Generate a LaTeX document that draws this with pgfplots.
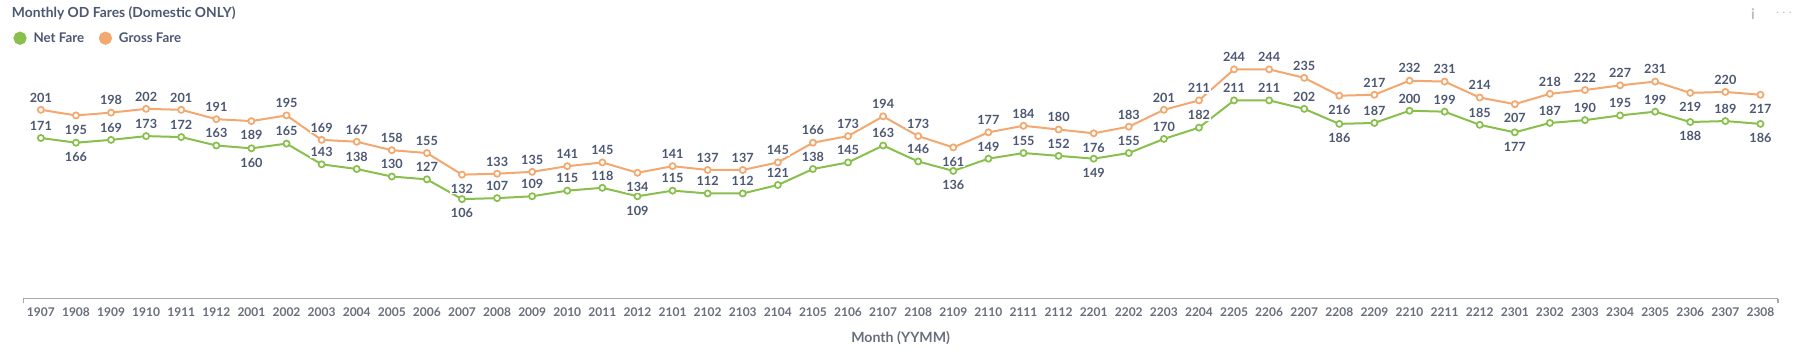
\documentclass[border=0pt]{standalone}
\usepackage{fontspec}
\setmainfont{Lato}
\usepackage{pgfplots}
\pgfplotsset{compat=1.18}
\usepackage{pgfplotstable}
\definecolor{netgreen}{HTML}{88BF4D}
\definecolor{grossorange}{HTML}{F2A86F}
\definecolor{labelcol}{HTML}{4C5773}
\definecolor{tickcol}{HTML}{696E7B}
\definecolor{axiscol}{HTML}{A3A8B4}
\definecolor{iconcol}{HTML}{B8BBC3}
\pgfplotstableread{
idx month net gross off
0 1907 171 201 9.2
1 1908 166 195 -10.7
2 1909 169 198 9.2
3 1910 173 202 9.2
4 1911 172 201 9.2
5 1912 163 191 9.2
6 2001 160 189 -10.7
7 2002 165 195 9.2
8 2003 143 169 9.2
9 2004 138 167 9.2
10 2005 130 158 9.2
11 2006 127 155 9.2
12 2007 106 132 -10.7
13 2008 107 133 9.2
14 2009 109 135 9.2
15 2010 115 141 9.2
16 2011 118 145 9.2
17 2012 109 134 -10.7
18 2101 115 141 9.2
19 2102 112 137 9.2
20 2103 112 137 9.2
21 2104 121 145 9.2
22 2105 138 166 9.2
23 2106 145 173 9.2
24 2107 163 194 9.2
25 2108 146 173 9.2
26 2109 136 161 -10.7
27 2110 149 177 9.2
28 2111 155 184 9.2
29 2112 152 180 9.2
30 2201 149 176 -10.7
31 2202 155 183 9.2
32 2203 170 201 9.2
33 2204 182 211 9.2
34 2205 211 244 9.2
35 2206 211 244 9.2
36 2207 202 235 9.2
37 2208 186 216 -10.7
38 2209 187 217 9.2
39 2210 200 232 9.2
40 2211 199 231 9.2
41 2212 185 214 9.2
42 2301 177 207 -10.7
43 2302 187 218 9.2
44 2303 190 222 9.2
45 2304 195 227 9.2
46 2305 199 231 9.2
47 2306 188 219 -10.7
48 2307 189 220 9.2
49 2308 186 217 -10.7
}\faredata
\begin{document}
\begin{tikzpicture}
\path[use as bounding box] (0,0) rectangle (1353pt,264.75pt);
\node[anchor=west, inner sep=0pt, text=labelcol, font=\bfseries\fontsize{10.4}{12}\selectfont] at (8.8pt,254.5pt) {Monthly OD Fares (Domestic ONLY)};
\node[inner sep=0pt, text=iconcol, font=\bfseries\fontsize{11}{13}\selectfont] at (1314.75pt,254.25pt) {i};
\node[inner sep=0pt, text=iconcol, font=\bfseries\fontsize{11}{13}\selectfont] at (1338pt,254.8pt) {$\cdots$};
\begin{axis}[
  at={(17.5pt,40.7pt)}, anchor=south west,
  scale only axis, width=1316pt, height=183.3pt,
  xmin=-0.5, xmax=49.5, ymin=0, ymax=260,
  clip=false,
  axis x line*=bottom, hide y axis,
  x axis line style={draw=axiscol, line width=0.9pt, -},
  xtick={0,...,49},
  xticklabels={1907,1908,1909,1910,1911,1912,2001,2002,2003,2004,2005,2006,2007,2008,2009,2010,2011,2012,2101,2102,2103,2104,2105,2106,2107,2108,2109,2110,2111,2112,2201,2202,2203,2204,2205,2206,2207,2208,2209,2210,2211,2212,2301,2302,2303,2304,2305,2306,2307,2308},
  major tick length=0pt,
  xticklabel style={font=\bfseries\fontsize{9}{10}\selectfont, text=tickcol, anchor=center, yshift=-9.75pt},
  extra x ticks={-0.5,49.5}, extra x tick labels={},
  extra x tick style={major tick length=3.5pt, tick align=outside, tick style={draw=axiscol, line width=0.9pt}},
  xlabel={Month (YYMM)},
  xlabel style={at={(axis description cs:0.5,0)}, anchor=center, yshift=-29.2pt, font=\bfseries\fontsize{10.6}{12}\selectfont, text=tickcol},
  /pgf/number format/assume math mode=true,
  nodes near coords,
  visualization depends on={\thisrow{off} \as \off},
  every node near coord/.append style={font=\bfseries\fontsize{9.5}{11}\selectfont, text=labelcol, anchor=center, yshift=\off*1pt, fill=white, inner sep=0.6pt},
  legend columns=2,
  legend image code/.code={\fill[#1] (0pt,0pt) circle (4.2pt);},
  legend style={draw=none, fill=none, inner sep=0pt, at={(rel axis cs:-0.0058,1.066)}, anchor=west, font=\bfseries\fontsize{10}{12}\selectfont, text=labelcol, /tikz/every odd column/.append style={column sep=3.2pt}, /tikz/every even column/.append style={column sep=9pt}},
]
\addplot[color=netgreen, line width=1.5pt, mark=*, mark size=2.3pt, mark options={fill=white, line width=1.3pt}] table[x=idx, y=net] {\faredata};
\addlegendentry{Net Fare}
\addplot[color=grossorange, line width=1.5pt, mark=*, mark size=2.3pt, mark options={fill=white, line width=1.3pt}] table[x=idx, y=gross] {\faredata};
\addlegendentry{Gross Fare}
\end{axis}
\end{tikzpicture}
\end{document}
